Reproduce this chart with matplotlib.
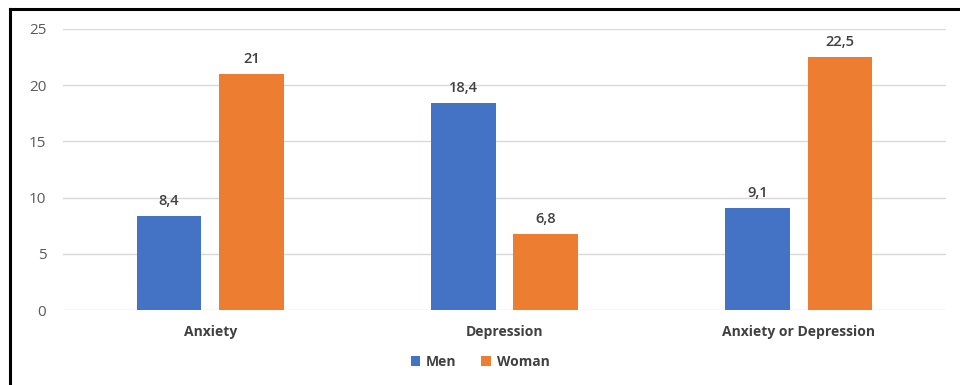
import matplotlib
matplotlib.use("Agg")
import matplotlib.pyplot as plt
import numpy as np
from matplotlib.lines import Line2D

categories = ["Anxiety", "Depression", "Anxiety or Depression"]
men = [8.4, 18.4, 9.1]
woman = [21, 6.8, 22.5]
men_labels = ["8,4", "18,4", "9,1"]
woman_labels = ["21", "6,8", "22,5"]

BLUE = "#4472C4"
ORANGE = "#ED7D31"
TEXT = "#404040"

plt.rcParams["font.family"] = ["Open Sans", "DejaVu Sans"]

fig = plt.figure(figsize=(9.6, 3.85), dpi=100)
W, H = 960, 385
ax = fig.add_axes([63 / W, 1 - 310 / H, (946 - 63) / W, (310 - 29) / H])

x = np.arange(len(categories))
bw = 0.22
off = 0.14
b1 = ax.bar(x - off, men, bw, color=BLUE, label="Men", zorder=3)
b2 = ax.bar(x + off, woman, bw, color=ORANGE, label="Woman", zorder=3)

for bars, labs in ((b1, men_labels), (b2, woman_labels)):
    for rect, lab in zip(bars, labs):
        ax.text(rect.get_x() + rect.get_width() / 2, rect.get_height() + 0.7, lab,
                ha="center", va="bottom", fontsize=10.5, color=TEXT,
                fontweight="semibold")

ax.set_xlim(-0.5, 2.5)
ax.set_ylim(0, 25)
ax.set_yticks([0, 5, 10, 15, 20, 25])
ax.yaxis.grid(True, color="#D9D9D9", linewidth=1, zorder=0)
for s in ax.spines.values():
    s.set_visible(False)
ax.tick_params(axis="both", length=0, colors="#595959")
ax.tick_params(axis="y", pad=12, labelsize=11)
ax.set_xticks(x)
ax.set_xticklabels(categories, fontsize=10, color=TEXT, fontweight="bold")
ax.tick_params(axis="x", pad=11)

fig.legend(handles=[b1, b2], labels=["Men", "Woman"], loc="center",
           bbox_to_anchor=(0.5, 1 - 362 / H), ncol=2, frameon=False,
           prop={"size": 10, "weight": "bold"}, handlelength=0.7,
           handleheight=0.7, columnspacing=1.8, handletextpad=0.4,
           labelcolor=TEXT)

# frame lines (left and top only)
fig.add_artist(Line2D([10 / W, 10 / W], [0, 1 - 9 / H], color="black", linewidth=2.2,
                      transform=fig.transFigure))
fig.add_artist(Line2D([10 / W, 1], [1 - 9 / H, 1 - 9 / H], color="black", linewidth=2.2,
                      transform=fig.transFigure))

fig.savefig("out.png", dpi=100)
